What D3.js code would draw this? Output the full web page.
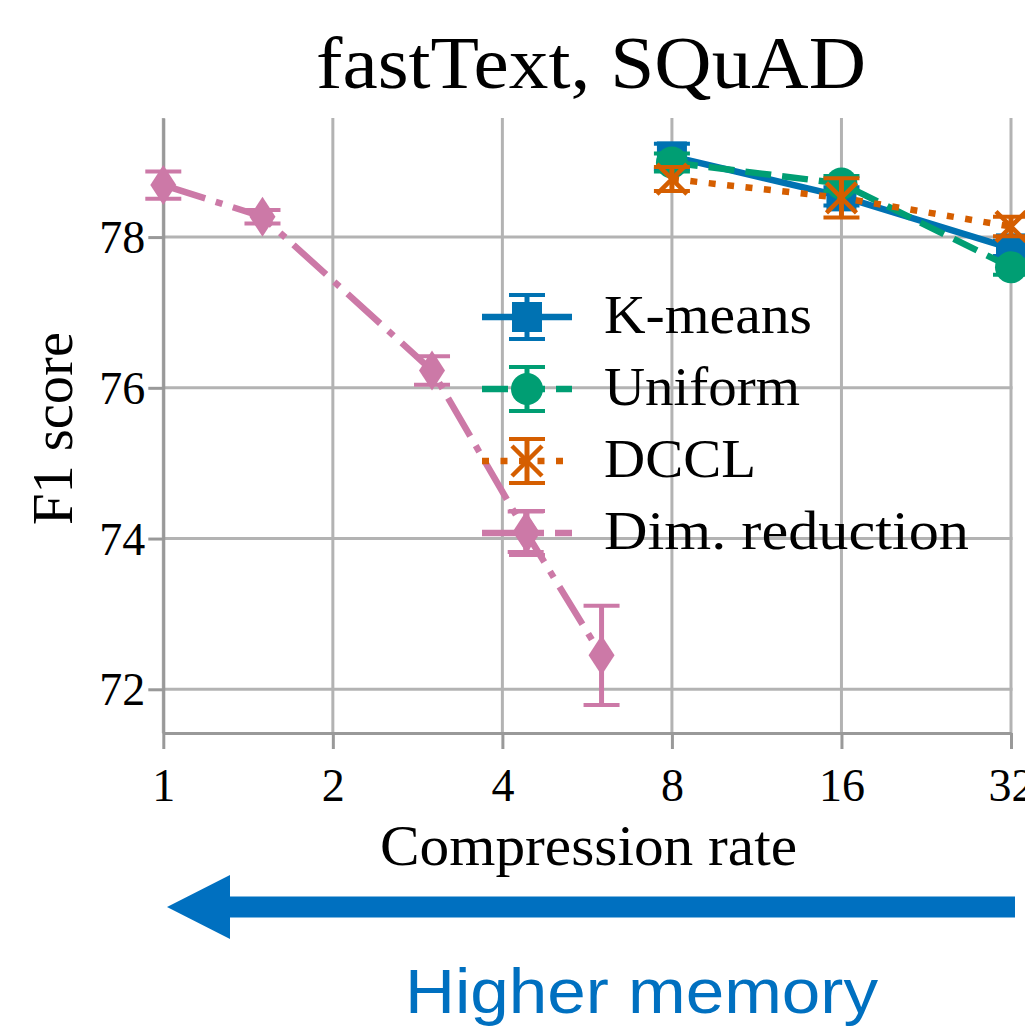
<!DOCTYPE html>
<html>
<head>
<meta charset="utf-8">
<script src="https://cdn.jsdelivr.net/npm/d3@7"></script>
<style>
  html, body { margin: 0; padding: 0; background: #fff; }
  svg { display: block; }
</style>
</head>
<body>
<svg id="chart" width="1025" height="1027"></svg>
<script>
// ---------------- data ----------------
const xTicks = [1, 2, 4, 8, 16, 32];
const yTicks = [72, 74, 76, 78];

const kmeansX = [8, 16, 32];
const kmeansY = [79.07, 78.54, 77.85];
const kmeansErr = [0.17, 0.12, 0.10];

const uniformX = [8, 16, 32];
const uniformY = [78.99, 78.71, 77.60];
const uniformErr = [0.12, 0.10, 0.10];

const dcclX = [8, 16, 32];
const dcclY = [78.77, 78.52, 78.14];
const dcclErr = [0.16, 0.26, 0.13];

const dimX = [1, 1.5, 3, 4.4, 6];
const dimY = [78.69, 78.27, 76.23, 74.09, 72.45];
const dimErr = [0.18, 0.09, 0.19, 0.27, 0.66];

const seriesNames = ["K-means", "Uniform", "DCCL", "Dim. reduction"];
const seriesColors = ["#0072B2", "#009E73", "#D55E00", "#CC79A7"];

// ---------------- layout ----------------
const svg = d3.select("#chart");
const serif = "'Liberation Serif', 'Times New Roman', serif";
const pLeft = 163.3, pRight = 1011, pTop = 118, pBottom = 733;

svg.append("rect").attr("width", 1025).attr("height", 1027).attr("fill", "#fff");

const x = d3.scaleLog().base(2).domain([1, 32]).range([pLeft, pRight]);
const y = d3.scaleLinear().domain([71.42, 79.58]).range([pBottom, pTop]);

// grid
const grid = svg.append("g");
grid.selectAll("line.gx").data(xTicks).join("line")
  .attr("x1", d => x(d)).attr("x2", d => x(d))
  .attr("y1", pTop).attr("y2", pBottom)
  .attr("stroke", "#b3b3b3").attr("stroke-width", 3);
grid.selectAll("line.gy").data(yTicks).join("line")
  .attr("x1", pLeft).attr("x2", pRight + 1.5)
  .attr("y1", d => y(d)).attr("y2", d => y(d))
  .attr("stroke", "#b3b3b3").attr("stroke-width", 3);

// axes
const axisColor = "#999999";
const gx = svg.append("g").attr("transform", `translate(0,${pBottom})`)
  .call(d3.axisBottom(x).tickValues(xTicks).tickFormat(d3.format("d")).tickSize(16).tickSizeOuter(0).tickPadding(19));
const gy = svg.append("g").attr("transform", `translate(${pLeft},0)`)
  .call(d3.axisLeft(y).tickValues(yTicks).tickFormat(d3.format("d")).tickSize(15).tickSizeOuter(0).tickPadding(3));
[gx, gy].forEach(g => {
  g.select(".domain").attr("stroke", axisColor).attr("stroke-width", 3);
  g.selectAll(".tick line").attr("stroke", axisColor).attr("stroke-width", 3);
  g.selectAll(".tick text").attr("fill", "#000").attr("font-family", serif).attr("font-size", 46);
});
gy.selectAll(".tick text").attr("dy", "0.34em");

// ---------------- marker helpers ----------------
function drawMarker(g, kind, cx, cy, color) {
  if (kind === "square") {
    g.append("rect").attr("x", cx - 15).attr("y", cy - 15).attr("width", 30).attr("height", 30)
      .attr("fill", color);
  } else if (kind === "circle") {
    g.append("circle").attr("cx", cx).attr("cy", cy).attr("r", 16).attr("fill", color);
  } else if (kind === "x") {
    const s = 15;
    g.append("path").attr("d", `M${cx - s},${cy - s}L${cx + s},${cy + s}M${cx - s},${cy + s}L${cx + s},${cy - s}`)
      .attr("stroke", color).attr("stroke-width", 4.5).attr("fill", "none");
  } else if (kind === "diamond") {
    const w = 13, h = 20;
    g.append("path").attr("d", `M${cx},${cy - h}L${cx + w},${cy}L${cx},${cy + h}L${cx - w},${cy}Z`)
      .attr("fill", color);
  }
}
function drawErr(g, cx, y1, y2, color) {
  g.append("line").attr("x1", cx).attr("x2", cx).attr("y1", y1).attr("y2", y2)
    .attr("stroke", color).attr("stroke-width", 5);
  [y1, y2].forEach(yy => g.append("line").attr("x1", cx - 18).attr("x2", cx + 18)
    .attr("y1", yy).attr("y2", yy).attr("stroke", color).attr("stroke-width", 4));
}

const dashes = [null, "26,11", "7,11.5", "44,11,7,11"];
const markers = ["square", "circle", "x", "diamond"];
const allX = [kmeansX, uniformX, dcclX, dimX];
const allY = [kmeansY, uniformY, dcclY, dimY];
const allE = [kmeansErr, uniformErr, dcclErr, dimErr];

const lineGen = d3.line().x(d => x(d[0])).y(d => y(d[1]));

seriesNames.forEach((name, i) => {
  const g = svg.append("g");
  const color = seriesColors[i];
  const pts = allX[i].map((v, j) => [v, allY[i][j], allE[i][j]]);
  g.append("path").datum(pts).attr("d", lineGen)
    .attr("fill", "none").attr("stroke", color).attr("stroke-width", 6.5)
    .attr("stroke-dasharray", dashes[i]);
  pts.forEach(p => drawErr(g, x(p[0]), y(p[1] + p[2]), y(p[1] - p[2]), color));
  pts.forEach(p => drawMarker(g, markers[i], x(p[0]), y(p[1]), color));
});

// ---------------- legend ----------------
const legendRows = [317, 389, 461, 533];
const legendTextLen = [208, 196, 152, 365];
const lg = svg.append("g");
seriesNames.forEach((name, i) => {
  const cy = legendRows[i], color = seriesColors[i];
  lg.append("line").attr("x1", 482).attr("x2", 572).attr("y1", cy).attr("y2", cy)
    .attr("stroke", color).attr("stroke-width", 6.5).attr("stroke-dasharray", dashes[i]);
  drawErr(lg, 527, cy - 22, cy + 22, color);
  drawMarker(lg, markers[i], 527, cy, color);
  lg.append("text").attr("x", 604).attr("y", cy + 16)
    .attr("font-family", serif).attr("font-size", 55).attr("fill", "#000")
    .attr("textLength", legendTextLen[i]).attr("lengthAdjust", "spacingAndGlyphs")
    .text(name);
});

// ---------------- titles ----------------
svg.append("text").attr("x", 591).attr("y", 88).attr("text-anchor", "middle")
  .attr("font-family", serif).attr("font-size", 73).attr("fill", "#000")
  .attr("textLength", 550).attr("lengthAdjust", "spacingAndGlyphs")
  .text("fastText, SQuAD");
svg.append("text").attr("x", 588.5).attr("y", 865).attr("text-anchor", "middle")
  .attr("font-family", serif).attr("font-size", 56).attr("fill", "#000")
  .attr("textLength", 417).attr("lengthAdjust", "spacingAndGlyphs")
  .text("Compression rate");
svg.append("text").attr("transform", "translate(72,428.5) rotate(-90)").attr("text-anchor", "middle")
  .attr("font-family", serif).attr("font-size", 56).attr("fill", "#000")
  .attr("textLength", 193).attr("lengthAdjust", "spacingAndGlyphs")
  .text("F1 score");

// ---------------- arrow annotation ----------------
const arrowPts = [[167, 907], [230, 875], [230, 896.5], [1015, 896.5], [1015, 917.5], [230, 917.5], [230, 939]];
svg.append("path").attr("d", d3.line()(arrowPts) + "Z").attr("fill", "#0070C0");
svg.append("text").attr("x", 405).attr("y", 1013)
  .attr("font-family", "'Liberation Sans', Arial, sans-serif").attr("font-size", 63).attr("fill", "#0070C0")
  .attr("textLength", 473).attr("lengthAdjust", "spacingAndGlyphs")
  .text("Higher memory");
</script>
</body>
</html>
